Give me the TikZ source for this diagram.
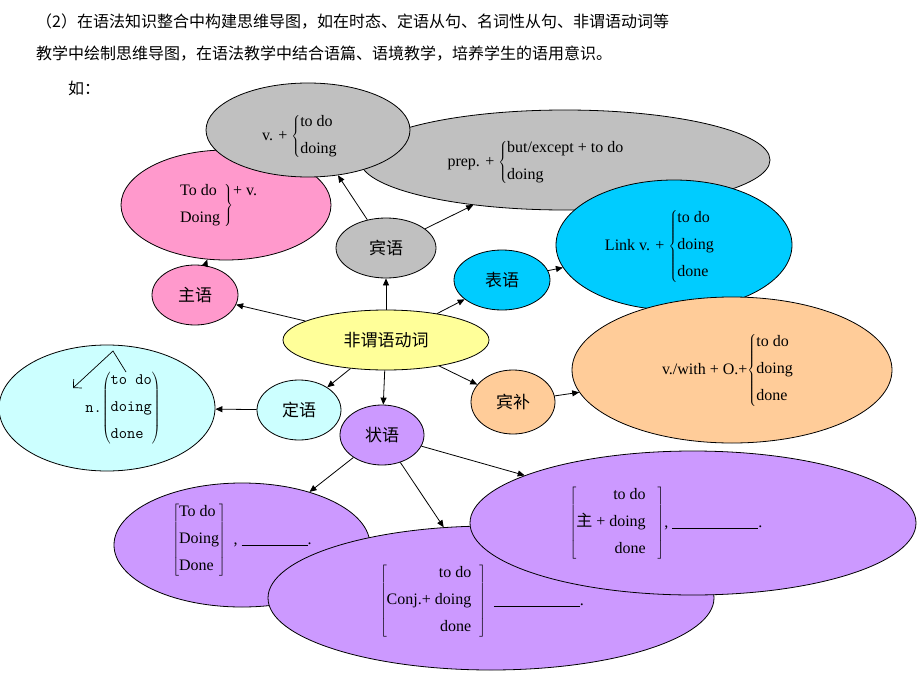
\documentclass[tikz,border=0pt]{standalone}
\usepackage{fontspec}
\setmainfont{Liberation Serif}
\newfontfamily\cjk{Noto Sans CJK SC}
\usetikzlibrary{shapes.geometric,arrows.meta}
\begin{document}
\begin{tikzpicture}[x=1pt,y=-1pt,
 el/.style={draw,ellipse,inner sep=0pt,line width=0.8pt},
 ar/.style={-{Triangle[length=7pt,width=6pt]},line width=0.8pt},
 tx/.style={font=\fontsize{16}{19}\selectfont,inner sep=0pt,align=left},
 zh/.style={font=\fontsize{17}{19}\selectfont\cjk,inner sep=0pt}]
\useasboundingbox[fill=white] (0,0) rectangle (920,690);
\definecolor{gr}{RGB}{192,192,192}
\definecolor{pk}{RGB}{255,153,204}
\definecolor{cy}{RGB}{0,204,255}
\definecolor{yl}{RGB}{255,255,153}
\definecolor{pc}{RGB}{255,204,153}
\definecolor{lc}{RGB}{204,255,255}
\definecolor{pu}{RGB}{204,153,255}
\node[anchor=west,font=\fontsize{16}{20}\selectfont\cjk,inner sep=0pt] (h1) at (36,22) {（2）在语法知识整合中构建思维导图，如在时态、定语从句、名词性从句、非谓语动词等};
\node[anchor=west,font=\fontsize{16}{20}\selectfont\cjk,inner sep=0pt] (h2) at (36,54) {教学中绘制思维导图，在语法教学中结合语篇、语境教学，培养学生的语用意识。};
\node[anchor=west,font=\fontsize{16}{20}\selectfont\cjk,inner sep=0pt] (h3) at (68,88) {如：};
% big ellipses
\node[el,fill=gr,minimum width=410,minimum height=100] (prep) at (565,160) {};
\node[el,fill=pk,minimum width=210,minimum height=110] (pink) at (226,205) {};
\node[el,fill=gr,minimum width=204,minimum height=94] (vp) at (308,130) {};
\node[el,fill=cy,minimum width=236,minimum height=130] (link) at (674,245) {};
\node[el,fill=pc,minimum width=320,minimum height=146] (with) at (732,370) {};
\node[el,fill=lc,minimum width=216,minimum height=126] (nn) at (107,408) {};
\node[el,fill=pu,minimum width=256,minimum height=124] (pl) at (242,545) {};
\node[el,fill=pu,minimum width=446,minimum height=144] (pm) at (491,598) {};
\node[el,fill=pu,minimum width=446,minimum height=144] (pr) at (693,523) {};
% small ellipses
\node[el,fill=gr,minimum width=100,minimum height=60,zh] (by) at (386,248) {宾语};
\node[el,fill=pk,minimum width=86,minimum height=60,zh] (zy) at (195,295) {主语};
\node[el,fill=cy,minimum width=96,minimum height=60,zh] (bi) at (502,280) {表语};
\node[el,fill=yl,minimum width=206,minimum height=60,zh] (c) at (386,340) {非谓语动词};
\node[el,fill=lc,minimum width=84,minimum height=60,zh] (dy) at (299,410) {定语};
\node[el,fill=pc,minimum width=84,minimum height=64,zh] (bb) at (513,402) {宾补};
\node[el,fill=pu,minimum width=84,minimum height=60,zh] (zt) at (382,435) {状语};
% arrows
\draw[ar] (c) -- (zy);
\draw[ar] (c) -- (by);
\draw[ar] (c) -- (bi);
\draw[ar] (c) -- (dy);
\draw[ar] (c) -- (zt);
\draw[ar] (c) -- (bb);
\draw[ar] (by) -- (vp);
\draw[ar] (by) -- (prep);
\draw[ar] (zy) -- (pink);
\draw[ar] (bi) -- (link);
\draw[ar] (bb) -- (with);
\draw[ar] (dy) -- (nn);
\draw[ar] (zt) -- (pl);
\draw[ar] (zt) -- (pm);
\draw[ar] (zt) -- (pr);
% texts
\node[tx] (t1) at (300,136) {v. + $\left\{\mbox{\begin{tabular}{@{}l@{}}to do\\[8pt]doing\end{tabular}}\right.$};
\node[tx] (t2) at (218,205) {$\left.\mbox{\begin{tabular}{@{}l@{}}To do\\[8pt]Doing\end{tabular}}\ \right\}$\raisebox{14pt}{+ v.}};
\node[tx] (t3) at (536,162) {prep. + $\left\{\mbox{\begin{tabular}{@{}l@{}}but/except + to do\\[8pt]doing\end{tabular}}\right.$};
\node[tx] (t4) at (660,246) {Link v. + $\left\{\mbox{\begin{tabular}{@{}l@{}}to do\\[8pt]doing\\[8pt]done\end{tabular}}\right.$};
\node[tx] (t5) at (728,370) {v./with + O.+$\left\{\mbox{\begin{tabular}{@{}l@{}}to do\\[8pt]doing\\[8pt]done\end{tabular}}\right.$};
\node[tx,font=\fontsize{16}{19}\selectfont\ttfamily] (t6) at (123,408) {n.$\left(\mbox{\begin{tabular}{@{}l@{}}to do\\[8pt]doing\\[8pt]done\end{tabular}}\right)$};
\coordinate (k1) at (126,372);
\coordinate (k2) at (113,351);
\coordinate (k3) at (73,388);
\draw[line width=0.7pt,-{Straight Barb[length=6pt]}] (k1) -- (k2) -- (k3);
\node[tx] (t7) at (242,540) {$\left[\mbox{\begin{tabular}{@{}l@{}}To do\\[8pt]Doing\\[8pt]Done\end{tabular}}\right]$\ \ , \rule[-1pt]{66pt}{0.5pt}.};
\node[tx] (t8) at (482,601) {$\left[\mbox{\begin{tabular}{@{}r@{}}to do\\[8pt]Conj.+ doing\\[8pt]done\end{tabular}}\ \ \right]$\ \ \rule[-1pt]{86pt}{0.5pt}.};
\node[tx] (t9) at (666,523) {$\left[\mbox{\begin{tabular}{@{}r@{}}to do\\[8pt]{\cjk 主} + doing\\[8pt]done\end{tabular}}\ \ \ \right]$, \rule[-1pt]{86pt}{0.5pt}.};
\end{tikzpicture}
\end{document}
